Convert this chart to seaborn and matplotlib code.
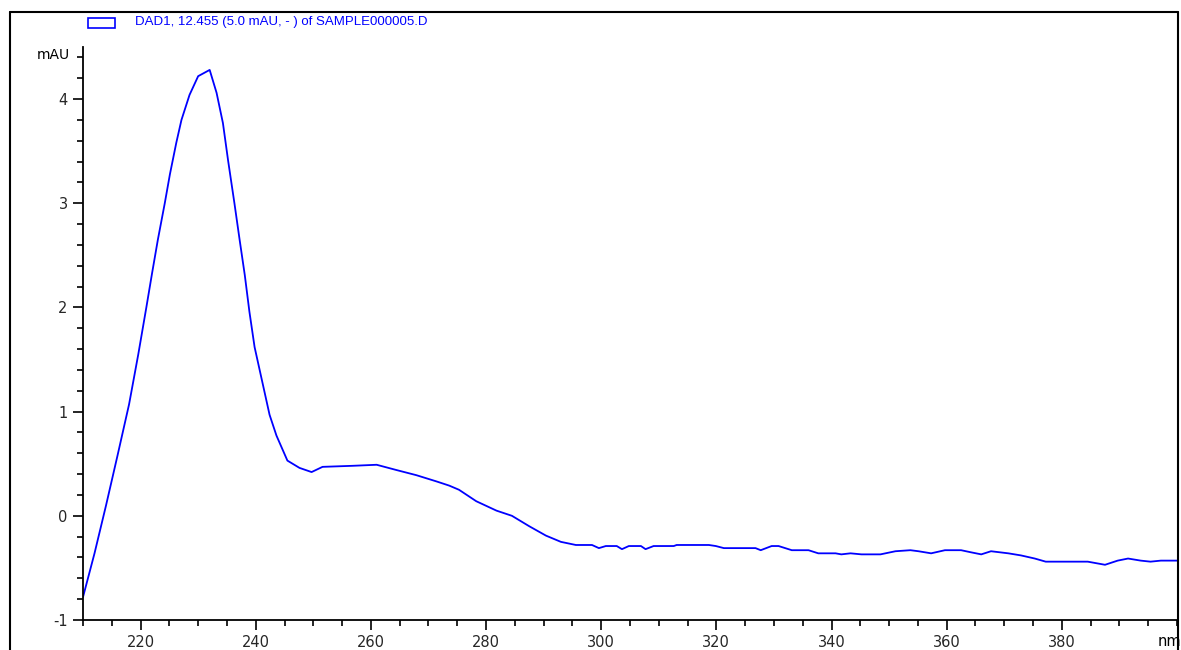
import numpy as np
import pandas as pd
import matplotlib
matplotlib.use("Agg")
import matplotlib.pyplot as plt
from matplotlib.lines import Line2D
from matplotlib.patches import Rectangle
from matplotlib.ticker import MultipleLocator
import seaborn as sns

wavelength_nm = [210, 212, 214, 216, 218, 219.6, 221, 222, 223, 224.2,
                 225.1, 226.2, 227.1, 228.5, 230.0, 232.0, 233.2, 234.3, 235.2, 236.3,
                 237.2, 238.1, 238.9, 239.8, 241.2, 242.4, 243.6, 245.5, 247.6,
                 249.7, 251.6, 256.8, 261, 264.4, 267.9, 271.4, 273.6, 275.3, 278.3,
                 281.8, 284.5, 287.5, 290.4, 293, 295.6, 298.4, 299.6, 300.8, 302.7,
                 303.6, 304.8, 306.9, 307.7, 309.1, 312.6, 313.1, 316.9, 318.7, 319.9,
                 321.3, 326.8, 327.7, 329.6, 330.8, 333.1, 336, 337.7, 340.7, 341.7,
                 343.3, 345.2, 348.5, 351.1, 353.7, 355.1, 357.3, 359.7, 362.5, 364.2,
                 366, 367.7, 370.7, 372.9, 375.3, 377.2, 384.5, 387.5, 389.7, 391.5,
                 393.7, 395.4, 397.2, 400]
absorbance_mau = [-0.78, -0.36, 0.10, 0.58, 1.07, 1.55, 2.00, 2.33, 2.65, 3.0,
                  3.28, 3.58, 3.80, 4.04, 4.22, 4.28, 4.06, 3.77, 3.41, 3.0,
                  2.65, 2.31, 1.96, 1.62, 1.27, 0.97, 0.77, 0.53, 0.46,
                  0.42, 0.47, 0.48, 0.49, 0.44, 0.39, 0.33, 0.29, 0.25, 0.14,
                  0.05, 0.0, -0.10, -0.19, -0.25, -0.28, -0.28, -0.31, -0.29, -0.29,
                  -0.32, -0.29, -0.29, -0.32, -0.29, -0.29, -0.28, -0.28, -0.28, -0.29,
                  -0.31, -0.31, -0.33, -0.29, -0.29, -0.33, -0.33, -0.36, -0.36, -0.37,
                  -0.36, -0.37, -0.37, -0.34, -0.33, -0.34, -0.36, -0.33, -0.33, -0.35,
                  -0.37, -0.34, -0.36, -0.38, -0.41, -0.44, -0.44, -0.47, -0.43, -0.41,
                  -0.43, -0.44, -0.43, -0.43]

x_ticks = [220, 240, 260, 280, 300, 320, 340, 360, 380]
y_ticks = [-1, 0, 1, 2, 3, 4]
legend_label = "DAD1, 12.455 (5.0 mAU, - ) of SAMPLE000005.D"

sns.set_style("white")
plt.rcParams['font.family'] = ['DejaVu Sans']

W, H = 1181, 650
fig = plt.figure(figsize=(W / 100, H / 100), dpi=100)
ax = fig.add_axes([83 / W, (H - 620) / H, (1177 - 83) / W, (620 - 47) / H])

df = pd.DataFrame({"nm": wavelength_nm, "mAU": absorbance_mau})
sns.lineplot(data=df, x="nm", y="mAU", ax=ax, color="#0000FF", lw=1.3,
             estimator=None, sort=False)

ax.set_xlim(210, 400)
ax.set_ylim(-1, 4.5)
ax.set_xticks(x_ticks)
ax.set_yticks(y_ticks)
ax.xaxis.set_minor_locator(MultipleLocator(5))
ax.yaxis.set_minor_locator(MultipleLocator(0.2))
ax.tick_params(axis="both", which="major", direction="out", length=7, width=1.2,
               color="black", labelsize=10.5, pad=4, left=True, bottom=True)
ax.tick_params(axis="both", which="minor", direction="out", length=4, width=1.2,
               color="black", left=True, bottom=True)
ax.set_xlabel("")
ax.set_ylabel("")
ax.set_yticklabels([str(t) for t in y_ticks])
ax.set_xticklabels([str(t) for t in x_ticks])
for side in ["left", "bottom"]:
    ax.spines[side].set_color("black")
    ax.spines[side].set_linewidth(1.3)
ax.spines["top"].set_visible(False)
ax.spines["right"].set_visible(False)

# unit labels
ax.text(-0.012, 4.42, "mAU", transform=ax.get_yaxis_transform(), ha="right",
        va="center", fontsize=10, color="black")
fig.text(1.0, (H - 641) / H, "nm", ha="right", va="center", fontsize=10.5, color="black")

# outer frame lines
fig.add_artist(Line2D([10 / W, 10 / W], [0, (H - 12) / H], color="black", lw=1.5))
fig.add_artist(Line2D([10 / W, 1178 / W], [(H - 12) / H, (H - 12) / H], color="black", lw=1.5))
fig.add_artist(Line2D([1178 / W, 1178 / W], [0, (H - 12) / H], color="black", lw=1.5))

# legend
fig.add_artist(Rectangle((88 / W, (H - 28) / H), 27 / W, 10 / H, fill=False,
                         edgecolor="#0000FF", lw=1.2))
fig.text(135 / W, (H - 22) / H, legend_label, ha="left", va="center",
         fontsize=9.5, color="#0000FF", family="Liberation Sans")

fig.savefig("out.png", dpi=100)
